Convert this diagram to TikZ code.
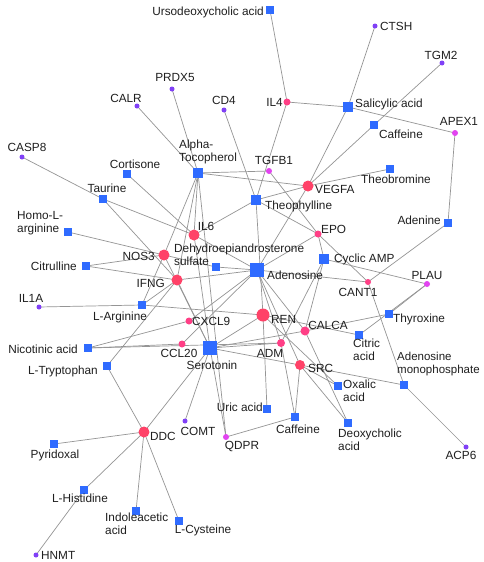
\documentclass[tikz,border=0pt]{standalone}
\usepackage{fontspec}
\setmainfont{Liberation Sans}
\pgfdeclarelayer{bg}
\pgfsetlayers{bg,main}
\definecolor{cblue}{HTML}{2F6BFF}
\definecolor{gred}{HTML}{FF4268}
\definecolor{gpink}{HTML}{FF3F86}
\definecolor{gmag}{HTML}{E244F0}
\definecolor{gpur}{HTML}{8040F6}
\definecolor{egray}{HTML}{959595}
\tikzset{
 cmp/.style={rectangle,fill=cblue,inner sep=0pt,minimum size=8pt},
 cmpM/.style={cmp,minimum size=10pt},
 cmpL/.style={cmp,minimum size=14pt},
 gR/.style={circle,fill=gred,inner sep=0pt,minimum size=11pt},
 gP/.style={circle,fill=gpink,inner sep=0pt,minimum size=7pt},
 gM/.style={circle,fill=gmag,inner sep=0pt,minimum size=6pt},
 gV/.style={circle,fill=gpur,inner sep=0pt,minimum size=5pt},
 lbl/.style={font=\fontsize{11.8}{13.2}\selectfont,inner sep=0pt,text=black!88},
 edge/.style={draw=egray,line width=0.7pt}
}
\begin{document}
\begin{tikzpicture}[x=1pt,y=-1pt]
\useasboundingbox (0,0) rectangle (483,562);
% compounds
\node[cmp] (urso) at (270,10) {};
\node[cmpM] (sal) at (348,107) {};
\node[cmp] (caffu) at (374,125) {};
\node[cmp] (theob) at (390,169) {};
\node[cmpM] (atoc) at (198,173) {};
\node[cmp] (cort) at (127,174) {};
\node[cmp] (taur) at (103,199) {};
\node[cmpM] (theo) at (256,200) {};
\node[cmp] (homo) at (68,232) {};
\node[cmp] (citr) at (86,266) {};
\node[cmp] (dhea) at (216,267) {};
\node[cmpL] (adeno) at (257,270) {};
\node[cmpM] (camp) at (324,259) {};
\node[cmp] (adenine) at (448,223) {};
\node[cmp] (larg) at (142,305) {};
\node[cmp] (thyr) at (389,314) {};
\node[cmp] (citric) at (359,335) {};
\node[cmp] (nic) at (88,348) {};
\node[cmpL] (ser) at (210,348) {};
\node[cmp] (ltrp) at (107,366) {};
\node[cmp] (amp) at (404,385) {};
\node[cmp] (oxal) at (338,386) {};
\node[cmp] (uric) at (267,409) {};
\node[cmp] (caffl) at (295,417) {};
\node[cmp] (deoxy) at (348,423) {};
\node[cmp] (pyr) at (54,444) {};
\node[cmp] (lhis) at (84,490) {};
\node[cmp] (ind) at (136,511) {};
\node[cmp] (lcys) at (179,521) {};
% genes
\node[gV] (ctsh) at (375,26) {};
\node[gV] (tgm2) at (442,63) {};
\node[gV] (prdx5) at (172,89) {};
\node[gV] (calr) at (137,106) {};
\node[gV] (cd4) at (224,110) {};
\node[gP] (il4) at (287,102) {};
\node[gM] (apex1) at (455,133) {};
\node[gV] (casp8) at (22,157) {};
\node[gM] (tgfb1) at (269,171) {};
\node[gR] (vegfa) at (308,186) {};
\node[gR] (il6) at (194,235) {};
\node[gP] (epo) at (318,234) {};
\node[gR] (nos3) at (164,255) {};
\node[gR] (ifng) at (177,280) {};
\node[gV] (il1a) at (39,307) {};
\node[gP,minimum size=6pt] (cant1) at (368,282) {};
\node[gM] (plau) at (427,284) {};
\node[gR,minimum size=13pt] (ren) at (263,315) {};
\node[gP] (cxcl9) at (189,321) {};
\node[gP,minimum size=9pt] (calca) at (305,331) {};
\node[gP] (ccl20) at (182,344) {};
\node[gP,minimum size=8pt] (adm) at (281,343) {};
\node[gR,minimum size=10pt] (src) at (300,365) {};
\node[gV] (comt) at (185,421) {};
\node[gM] (qdpr) at (226,437) {};
\node[gR] (ddc) at (144,432) {};
\node[gV] (hnmt) at (36,555) {};
\node[gV] (acp6) at (466,447) {};
% labels
\node[lbl,anchor=east] (t-urso) at (264,12) {Ursodeoxycholic acid};
\node[lbl,anchor=west] (t-ctsh) at (380,26) {CTSH};
\node[lbl] (t-tgm2) at (441,55) {TGM2};
\node[lbl] (t-prdx5) at (175,77) {PRDX5};
\node[lbl] (t-calr) at (126,98) {CALR};
\node[lbl] (t-cd4) at (224,100) {CD4};
\node[lbl,anchor=east] (t-il4) at (283,102) {IL4};
\node[lbl,anchor=west] (t-sal) at (355,104) {Salicylic acid};
\node[lbl] (t-caffu) at (401,134) {Caffeine};
\node[lbl] (t-apex1) at (459,121) {APEX1};
\node[lbl] (t-casp8) at (27,147) {CASP8};
\node[lbl] (t-cort) at (135,164) {Cortisone};
\node[lbl,align=left,anchor=north west] (t-atoc) at (179,140) {Alpha-\\Tocopherol};
\node[lbl] (t-taur) at (107,188) {Taurine};
\node[lbl] (t-tgfb1) at (274,160) {TGFB1};
\node[lbl,anchor=west] (t-vegfa) at (315,189) {VEGFA};
\node[lbl] (t-theob) at (396,179) {Theobromine};
\node[lbl,anchor=west] (t-theo) at (265,206) {Theophylline};
\node[lbl,anchor=east] (t-adenine) at (441,220) {Adenine};
\node[lbl,align=left,anchor=north west] (t-homo) at (17,211) {Homo-L-\\arginine};
\node[lbl] (t-il6) at (206,226) {IL6};
\node[lbl,anchor=east] (t-nos3) at (155,256) {NOS3};
\node[lbl,align=left,anchor=north west] (t-dhea) at (174,244) {Dehydroepiandrosterone\\sulfate};
\node[lbl,anchor=west] (t-epo) at (321,229) {EPO};
\node[lbl,anchor=west] (t-camp) at (334,259) {Cyclic AMP};
\node[lbl,anchor=east] (t-citr) at (77,266) {Citrulline};
\node[lbl,anchor=east] (t-ifng) at (165,283) {IFNG};
\node[lbl,anchor=west] (t-adeno) at (267,275) {Adenosine};
\node[lbl] (t-plau) at (427,275) {PLAU};
\node[lbl] (t-cant1) at (358,292) {CANT1};
\node[lbl] (t-il1a) at (31,298) {IL1A};
\node[lbl] (t-larg) at (120,317) {L-Arginine};
\node[lbl,anchor=west] (t-ren) at (271,319) {REN};
\node[lbl,anchor=west] (t-thyr) at (393,319) {Thyroxine};
\node[lbl,anchor=west] (t-cxcl9) at (192,321) {CXCL9};
\node[lbl] (t-calca) at (328,325) {CALCA};
\node[lbl,align=left,anchor=north west] (t-citric) at (353,339) {Citric\\acid};
\node[lbl,anchor=east] (t-nic) at (78,349) {Nicotinic acid};
\node[lbl] (t-ccl20) at (179,353) {CCL20};
\node[lbl] (t-adm) at (270,353) {ADM};
\node[lbl] (t-ser) at (212,365) {Serotonin};
\node[lbl,anchor=west] (t-src) at (308,368) {SRC};
\node[lbl,align=left,anchor=north west,font=\fontsize{11.5}{13.2}\selectfont] (t-amp) at (397,352) {Adenosine\\monophosphate};
\node[lbl,anchor=east] (t-ltrp) at (98,371) {L-Tryptophan};
\node[lbl,align=left,anchor=north west] (t-oxal) at (343,380) {Oxalic\\acid};
\node[lbl,anchor=east] (t-uric) at (263,407) {Uric acid};
\node[lbl] (t-comt) at (198,431) {COMT};
\node[lbl] (t-qdpr) at (242,446) {QDPR};
\node[lbl,anchor=west] (t-ddc) at (150,436) {DDC};
\node[lbl] (t-caffl) at (298,429) {Caffeine};
\node[lbl,align=left,anchor=north west] (t-deoxy) at (338,429) {Deoxycholic\\acid};
\node[lbl] (t-acp6) at (461,455) {ACP6};
\node[lbl] (t-pyr) at (55,455) {Pyridoxal};
\node[lbl] (t-lhis) at (80,498) {L-Histidine};
\node[lbl,align=left,anchor=north west] (t-ind) at (105,513) {Indoleacetic\\acid};
\node[lbl] (t-lcys) at (203,530) {L-Cysteine};
\node[lbl,anchor=west] (t-hnmt) at (41,555) {HNMT};
\begin{pgfonlayer}{bg}
\fill[white] (0,0) rectangle (483,562);
\foreach \a/\b in {urso/il4,sal/il4,sal/apex1,sal/ctsh,sal/vegfa,caffu/tgm2,caffu/vegfa,theob/vegfa,
 atoc/prdx5,atoc/calr,atoc/tgfb1,atoc/vegfa,atoc/il6,atoc/nos3,atoc/ifng,atoc/qdpr,
 cort/il6,taur/casp8,taur/il6,taur/ifng,homo/nos3,dhea/nos3,dhea/adeno,citr/nos3,citr/ifng,
 larg/il1a,larg/nos3,larg/ifng,larg/ren,ltrp/ifng,ltrp/ddc,nic/cxcl9,nic/ccl20,nic/adm,
 theo/cd4,theo/il4,theo/il6,theo/ren,theo/epo,theo/vegfa,tgfb1/epo,epo/cant1,
 adenine/apex1,adenine/cant1,amp/cant1,amp/acp6,amp/src,
 adeno/il6,adeno/ifng,adeno/epo,adeno/cant1,adeno/adm,adeno/src,adeno/calca,adeno/vegfa,adeno/cxcl9,adeno/ccl20,
 camp/plau,camp/epo,camp/calca,camp/adm,
 thyr/calca,thyr/plau,citric/plau,citric/ren,
 ser/comt,ser/ddc,ser/qdpr,ser/il6,ser/ifng,ser/nos3,ser/calca,ser/src,ser/adm,ser/ren,
 uric/ren,caffl/src,caffl/qdpr,caffl/adm,oxal/src,oxal/ren,deoxy/src,deoxy/calca,
 pyr/ddc,lhis/ddc,lhis/hnmt,ind/ddc,lcys/ddc}
 {\draw[edge] (\a.center) -- (\b.center);}
\end{pgfonlayer}
\end{tikzpicture}
\end{document}
